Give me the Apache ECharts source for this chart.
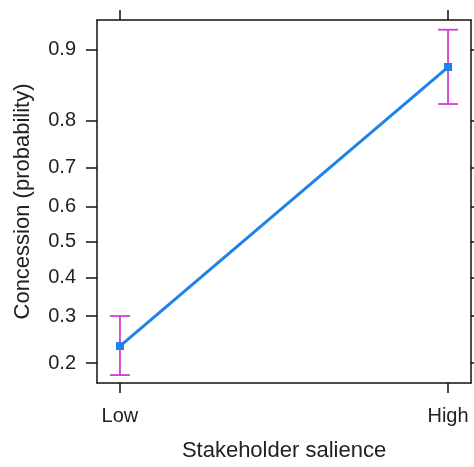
<!DOCTYPE html>
<html>
<head>
<meta charset="utf-8">
<script src="https://cdn.jsdelivr.net/npm/echarts@6/dist/echarts.min.js"></script>
<style>
  html, body { margin: 0; padding: 0; background: #fff; }
  #chart-area { width: 474px; height: 467px; }
</style>
</head>
<body>
<div id="chart-area"></div>
<script>
// data (probability scale)
const categories = ['Low', 'High'];
const fit = [0.233, 0.881];
const lower = [0.179, 0.829];
const upper = [0.300, 0.919];
const yTicks = [0.2, 0.3, 0.4, 0.5, 0.6, 0.7, 0.8, 0.9];

const logit = p => Math.log(p / (1 - p));
const invLogit = v => 1 / (1 + Math.exp(-v));

let chartDom = document.getElementById('chart-area');
let myChart = echarts.init(chartDom);

const xPos = categories.map((c, i) => i + 1);
const tickVals = yTicks.map(logit);
const labelStyle = { color: '#222', fontFamily: 'Liberation Sans', fontSize: 20 };
const nameStyle = { color: '#222', fontFamily: 'Liberation Sans', fontSize: 22 };
const axisLine = { show: true, onZero: false, lineStyle: { color: '#111', width: 1.5 } };
const tickLine = { color: '#111', width: 1.5 };

let option = {
	animation: false,
	grid: { left: 97, right: 3, top: 20, bottom: 83 },
	xAxis: [
		{
			type: 'value',
			min: 0.93,
			max: 2.07,
			position: 'bottom',
			name: 'Stakeholder salience',
			nameLocation: 'middle',
			nameGap: 57,
			nameTextStyle: nameStyle,
			axisLine: axisLine,
			splitLine: { show: false },
			axisTick: { show: true, length: 10, lineStyle: tickLine, customValues: xPos },
			axisLabel: {
				...labelStyle,
				margin: 23,
				customValues: xPos,
				formatter: v => categories[Math.round(v) - 1]
			}
		},
		{
			type: 'value',
			min: 0.93,
			max: 2.07,
			position: 'top',
			axisLine: axisLine,
			splitLine: { show: false },
			axisTick: { show: true, length: 10, lineStyle: tickLine, customValues: xPos },
			axisLabel: { show: false }
		}
	],
	yAxis: [
		{
			type: 'value',
			min: -1.614,
			max: 2.54,
			position: 'left',
			name: 'Concession (probability)',
			nameLocation: 'middle',
			nameGap: 63,
			nameTextStyle: nameStyle,
			axisLine: axisLine,
			splitLine: { show: false },
			axisTick: { show: true, length: 11, lineStyle: tickLine, customValues: tickVals },
			axisLabel: {
				...labelStyle,
				margin: 21,
				customValues: tickVals,
				formatter: v => invLogit(v).toFixed(1)
			}
		},
		{
			type: 'value',
			min: -1.614,
			max: 2.54,
			position: 'right',
			axisLine: axisLine,
			splitLine: { show: false },
			axisTick: { show: true, length: 11, lineStyle: tickLine, customValues: tickVals },
			axisLabel: { show: false }
		}
	],
	series: [
		{
			type: 'custom',
			name: 'ci',
			renderItem: function (params, api) {
				const x = api.value(0);
				const lo = api.coord([x, api.value(1)]);
				const hi = api.coord([x, api.value(2)]);
				const w = 10;
				const style = { stroke: '#d43bd4', lineWidth: 1.8 };
				return {
					type: 'group',
					children: [
						{ type: 'line', shape: { x1: lo[0], y1: lo[1], x2: hi[0], y2: hi[1] }, style: style },
						{ type: 'line', shape: { x1: lo[0] - w, y1: lo[1], x2: lo[0] + w, y2: lo[1] }, style: style },
						{ type: 'line', shape: { x1: hi[0] - w, y1: hi[1], x2: hi[0] + w, y2: hi[1] }, style: style }
					]
				};
			},
			data: xPos.map((x, i) => [x, logit(lower[i]), logit(upper[i])]),
			z: 2
		},
		{
			type: 'line',
			name: 'fit',
			data: xPos.map((x, i) => [x, logit(fit[i])]),
			symbol: 'rect',
			symbolSize: 8,
			itemStyle: { color: '#1f82e8' },
			lineStyle: { color: '#1f82e8', width: 3 },
			z: 3
		}
	]
};

option && myChart.setOption(option);
</script>
</body>
</html>
